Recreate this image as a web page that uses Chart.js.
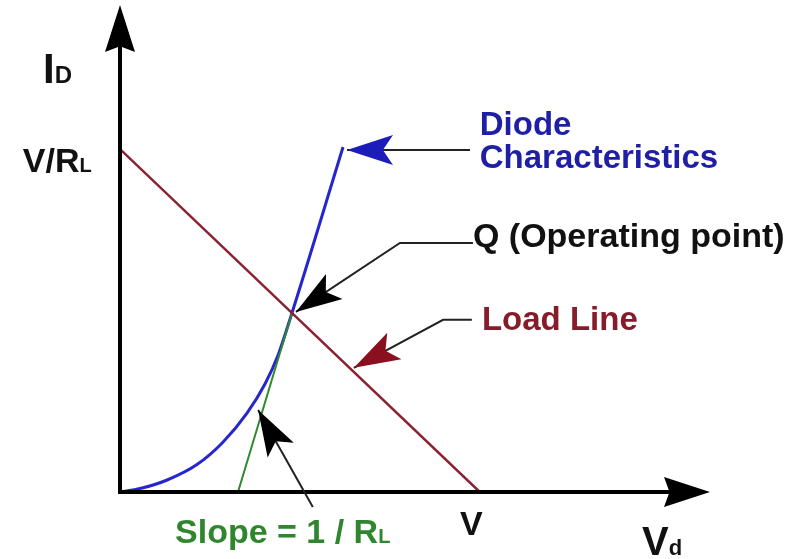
<!DOCTYPE html>
<html>
<head>
<meta charset="utf-8">
<script src="https://cdn.jsdelivr.net/npm/chart.js@4.4.1/dist/chart.umd.min.js"></script>
<style>
  html, body { margin: 0; padding: 0; background: #fff; }
  #wrap { width: 798px; height: 559px; }
</style>
</head>
<body>
<div id="wrap"><canvas id="chart"></canvas></div>
<script>
// diode characteristic, Vd in volts, Id in mA
const diodeVd = [0, 0.56, 1.31, 2.14, 2.86, 3.53, 4.03, 4.39, 4.78, 6.20];
const diodeId = [0, 0.10, 0.35, 0.80, 1.45, 2.30, 3.15, 3.98, 5.22, 10.06];

// load line goes from (0, V/RL) to (V, 0)
const supplyV = 10;
const loadR = 1;
const loadVd = [0, supplyV];
const loadId = [supplyV / loadR, 0];

// tangent to the curve at Q
const tangentVd = [3.28, 4.78];
const tangentId = [0, 5.22];

const axisMaxVd = 16.4;
const axisMaxId = 14.2;

// callout arrows, in Vd / Id units (tail ... tip)
const callouts = [
  { pts: [[9.73, 9.97], [6.31, 9.97]], color: '#1c1cb8' },
  { pts: [[9.81, 7.26], [7.78, 7.26], [4.89, 5.25]], color: '#000' },
  { pts: [[9.78, 5.02], [8.98, 5.02], [6.50, 3.62]], color: '#8a1020' },
  { pts: [[5.36, -0.44], [3.84, 2.39]], color: '#000' },
];

// text, anchored at left / baseline, in Vd / Id units
const labels = [
  { at: [10.0, 10.41], color: '#1f1fa6', parts: [['Diode', 33]] },
  { at: [10.0, 9.45], color: '#1f1fa6', parts: [['Characteristics', 33]] },
  { at: [9.81, 7.14], color: '#111', parts: [['Q (Operating point)', 34]] },
  { at: [10.06, 4.72], color: '#861c2a', parts: [['Load Line', 33]] },
  { at: [1.53, -1.49], color: '#2f862f', parts: [['Slope = 1 / R', 34], ['L', 20]] },
  { at: [9.45, -1.25], color: '#111', parts: [['V', 34]] },
  { at: [14.51, -1.84], color: '#111', parts: [['V', 40], ['d', 22]] },
  { at: [-2.14, 11.93], color: '#111', parts: [['I', 42], ['D', 24]] },
  { at: [-2.70, 9.33], color: '#111', parts: [['V/R', 34], ['L', 20]] },
];

function pt(chart, p) {
  return [chart.scales.x.getPixelForValue(p[0]), chart.scales.y.getPixelForValue(p[1])];
}

function arrowHead(ctx, tip, from, len, half, notch, color) {
  const a = Math.atan2(tip[1] - from[1], tip[0] - from[0]);
  ctx.save();
  ctx.translate(tip[0], tip[1]);
  ctx.rotate(a);
  ctx.beginPath();
  ctx.moveTo(0, 0);
  ctx.lineTo(-len, -half);
  ctx.lineTo(-len * notch, 0);
  ctx.lineTo(-len, half);
  ctx.closePath();
  ctx.fillStyle = color;
  ctx.fill();
  ctx.restore();
}

const overlay = {
  id: 'overlay',
  afterDatasetsDraw(chart) {
    const ctx = chart.ctx;
    const o = pt(chart, [0, 0]);
    const yTop = pt(chart, [0, axisMaxId]);
    const xEnd = pt(chart, [axisMaxVd, 0]);

    // axes
    ctx.save();
    ctx.strokeStyle = '#000';
    ctx.lineWidth = 4;
    ctx.lineCap = 'square';
    ctx.beginPath();
    ctx.moveTo(yTop[0], yTop[1] + 20);
    ctx.lineTo(o[0], o[1]);
    ctx.lineTo(xEnd[0] - 20, xEnd[1]);
    ctx.stroke();
    arrowHead(ctx, yTop, o, 47, 15, 0.88, '#000');
    arrowHead(ctx, xEnd, o, 46, 15, 0.88, '#000');

    // callouts
    callouts.forEach(c => {
      const p = c.pts.map(q => pt(chart, q));
      ctx.beginPath();
      ctx.moveTo(p[0][0], p[0][1]);
      for (let i = 1; i < p.length; i++) ctx.lineTo(p[i][0], p[i][1]);
      ctx.strokeStyle = '#222';
      ctx.lineWidth = 2;
      ctx.lineCap = 'butt';
      ctx.stroke();
      arrowHead(ctx, p[p.length - 1], p[p.length - 2], 46, 15, 0.78, c.color);
    });

    // labels
    ctx.textBaseline = 'alphabetic';
    ctx.textAlign = 'left';
    labels.forEach(l => {
      let [x, y] = pt(chart, l.at);
      ctx.fillStyle = l.color;
      l.parts.forEach(([t, size]) => {
        ctx.font = 'bold ' + size + 'px "Liberation Sans", Arial, sans-serif';
        ctx.fillText(t, x, y);
        x += ctx.measureText(t).width;
      });
    });
    ctx.restore();
  }
};

const toXY = (xs, ys) => xs.map((x, i) => ({ x: x, y: ys[i] }));

new Chart(document.getElementById('chart'), {
  type: 'scatter',
  data: {
    datasets: [
      {
        label: 'Load Line',
        data: toXY(loadVd, loadId),
        showLine: true,
        borderColor: '#8b2232',
        borderWidth: 2.5,
        pointRadius: 0,
      },
      {
        label: 'Slope',
        data: toXY(tangentVd, tangentId),
        showLine: true,
        borderColor: '#2f8a2f',
        borderWidth: 2,
        pointRadius: 0,
      },
      {
        label: 'Diode Characteristics',
        data: toXY(diodeVd, diodeId),
        showLine: true,
        borderColor: '#2626cc',
        borderWidth: 3,
        pointRadius: 0,
        cubicInterpolationMode: 'monotone',
      },
    ],
  },
  options: {
    responsive: true,
    maintainAspectRatio: false,
    animation: false,
    layout: { padding: { left: 120, right: 88, top: 5, bottom: 67 } },
    scales: {
      x: { type: 'linear', display: false, min: 0, max: axisMaxVd },
      y: { type: 'linear', display: false, min: 0, max: axisMaxId },
    },
    plugins: {
      legend: { display: false },
      tooltip: { enabled: false },
    },
  },
  plugins: [overlay],
});
</script>
</body>
</html>
